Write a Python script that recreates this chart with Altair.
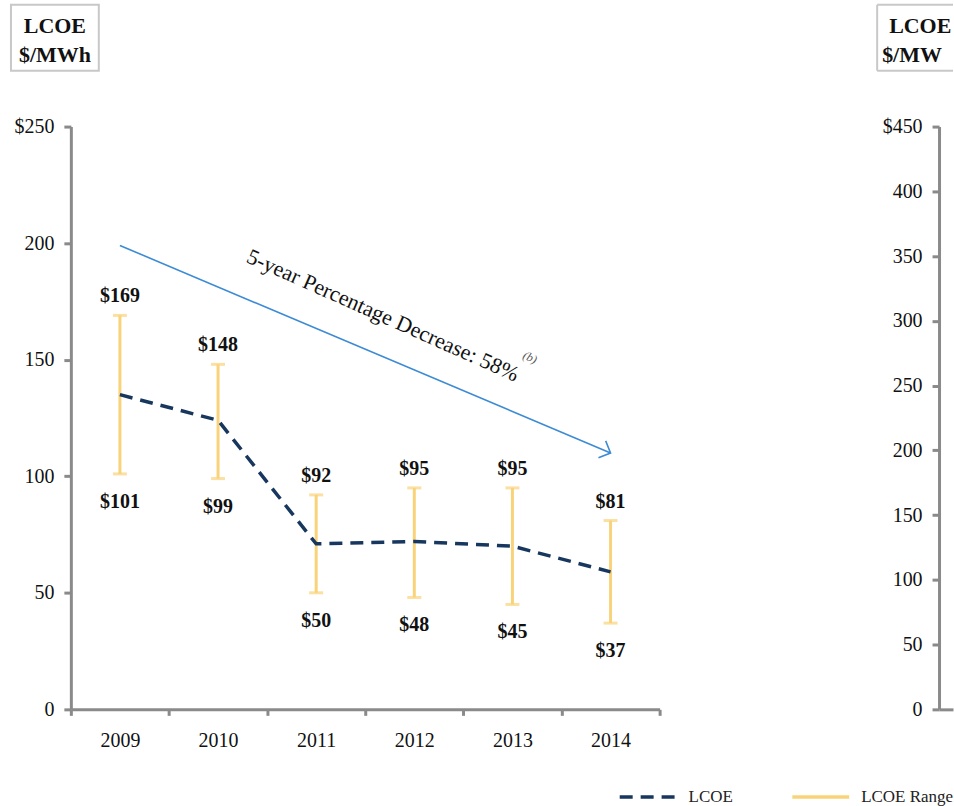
import altair as alt
import pandas as pd

# ---------------- data ----------------
years = ["2009", "2010", "2011", "2012", "2013", "2014"]
lcoe = [135, 124, 71, 72, 70, 59]
range_high = [169, 148, 92, 95, 95, 81]
range_low = [101, 99, 50, 48, 45, 37]
high_labels = ["$169", "$148", "$92", "$95", "$95", "$81"]
low_labels = ["$101", "$99", "$50", "$48", "$45", "$37"]
series_names = ["LCOE", "LCOE Range"]

# trend arrow (x in year-index units, 0..6 across the axis; y in $/MWh)
arrow_x = [0.5, 5.5]
arrow_y = [199, 110]
annot_text = ["5-year Percentage Decrease: 58%"]
annot_x = [3.18]
annot_y = [169]
sup_text = ["(b)"]
sup_x = [4.68]
sup_y = [151]

left_ticks = [0, 50, 100, 150, 200, 250]
right_ticks = [0, 50, 100, 150, 200, 250, 300, 350, 400, 450]

# ---------------- styling ----------------
FONT = "Liberation Serif"
NAVY = "#17375e"
YELLOW = "#f9d37a"
BLUE = "#3d8bd4"
AXIS_GREY = "#8a8a8a"
BOX_GREY = "#c8c8c8"

line_df = pd.DataFrame({"year": years, "value": lcoe, "s": series_names[0]})
range_df = pd.DataFrame({
    "year": years, "high": range_high, "low": range_low,
    "hl": high_labels, "ll": low_labels, "s": series_names[1],
})
arrow_df = pd.DataFrame({"x": arrow_x, "y": arrow_y})
head_df = pd.DataFrame({"x": [arrow_x[-1]], "y": [arrow_y[-1]]})
annot_df = pd.DataFrame({"x": annot_x, "y": annot_y, "t": annot_text})
sup_df = pd.DataFrame({"x": sup_x, "y": sup_y, "t": sup_text})
one = pd.DataFrame({"k": [0]})

x_band = alt.X(
    "year:N",
    sort=years,
    scale=alt.Scale(paddingInner=0, paddingOuter=0),
    axis=alt.Axis(
        title=None, labelAngle=0, labelAlign="center", labelBaseline="top",
        labelFont=FONT, labelFontSize=20,
        labelColor="#111", labelPadding=15, tickBand="extent",
        domainColor=AXIS_GREY, domainWidth=3, tickColor=AXIS_GREY,
        tickWidth=3, tickSize=6, grid=False,
    ),
)
y_left_scale = alt.Scale(domain=[0, 250], nice=False)
y_left_axis = alt.Axis(
    title=None, values=left_ticks,
    labelExpr="datum.value == 250 ? '$250' : datum.label",
    labelFont=FONT, labelFontSize=20, labelColor="#111", labelPadding=10,
    domainColor=AXIS_GREY, domainWidth=3, tickColor=AXIS_GREY,
    tickWidth=3, tickSize=7, grid=False,
)

legend_cfg = alt.Legend(
    title=None, orient="none", direction="horizontal",
    legendX=548, legendY=641, symbolType="stroke",
    symbolSize=3249, symbolStrokeWidth=3.5, labelFont=FONT,
    labelFontSize=17, labelColor="#222", labelOffset=10,
    columnPadding=52,
)
color_enc = alt.Color(
    "s:N",
    scale=alt.Scale(domain=series_names, range=[NAVY, YELLOW]),
    legend=legend_cfg,
)
dash_enc = alt.StrokeDash(
    "s:N",
    scale=alt.Scale(domain=series_names, range=[[13, 8], [1, 0]]),
    legend=legend_cfg,
)

line = alt.Chart(line_df).mark_line(strokeWidth=3.5).encode(
    x=x_band,
    y=alt.Y("value:Q", scale=y_left_scale, axis=y_left_axis),
    color=color_enc,
    strokeDash=dash_enc,
)

rng = alt.Chart(range_df).mark_rule(strokeWidth=3).encode(
    x=alt.X("year:N", sort=years),
    y="low:Q",
    y2="high:Q",
    color=color_enc,
)
cap_hi = alt.Chart(range_df).mark_tick(
    color=YELLOW, thickness=3, size=14
).encode(x=alt.X("year:N", sort=years), y="high:Q")
cap_lo = alt.Chart(range_df).mark_tick(
    color=YELLOW, thickness=3, size=14
).encode(x=alt.X("year:N", sort=years), y="low:Q")

lab_hi = alt.Chart(range_df).mark_text(
    font=FONT, fontSize=20, fontWeight="bold", color="#111",
    baseline="alphabetic", dy=-13,
).encode(x=alt.X("year:N", sort=years), y="high:Q", text="hl:N")
lab_lo = alt.Chart(range_df).mark_text(
    font=FONT, fontSize=20, fontWeight="bold", color="#111",
    baseline="alphabetic", dy=34,
).encode(x=alt.X("year:N", sort=years), y="low:Q", text="ll:N")

main = alt.layer(rng, cap_hi, cap_lo, line, lab_hi, lab_lo)

x_lin = alt.X("x:Q", scale=alt.Scale(domain=[0, 6], nice=False), axis=None)
arrow = alt.Chart(arrow_df).mark_line(color=BLUE, strokeWidth=1.6).encode(
    x=x_lin, y="y:Q"
)
head = alt.Chart(head_df).mark_point(
    shape="M-1,-1L0,0L-1,1", filled=False, stroke=BLUE, strokeWidth=1.6,
    size=340, angle=23, opacity=1,
).encode(x=x_lin, y="y:Q")
annot = alt.Chart(annot_df).mark_text(
    font=FONT, fontSize=22, color="#111", angle=24, baseline="middle",
    align="center",
).encode(x=x_lin, y="y:Q", text="t:N")
sup = alt.Chart(sup_df).mark_text(
    font=FONT, fontSize=12, fontStyle="italic", color="#555", angle=24,
    baseline="middle", align="center",
).encode(x=x_lin, y="y:Q", text="t:N")
annot_layer = alt.layer(arrow, head, annot, sup)

# header box "LCOE $/MWh" (left panel)
box_l = alt.Chart(one).mark_rect(
    fill="white", stroke=BOX_GREY, strokeWidth=2
).encode(x=alt.value(-60), x2=alt.value(28), y=alt.value(-122), y2=alt.value(-56))
box_l_t1 = alt.Chart(one).mark_text(
    text="LCOE", font=FONT, fontSize=22, fontWeight="bold", color="#111",
    align="center", baseline="middle",
).encode(x=alt.value(-16), y=alt.value(-101))
box_l_t2 = alt.Chart(one).mark_text(
    text="$/MWh", font=FONT, fontSize=22, fontWeight="bold", color="#111",
    align="center", baseline="middle",
).encode(x=alt.value(-16), y=alt.value(-72))
box_layer = alt.layer(box_l, box_l_t1, box_l_t2)

left = alt.layer(
    box_layer, main, annot_layer
).resolve_scale(x="independent").properties(width=590, height=584)

# ---------------- right panel (cut off at the page edge) ----------------
right_base = alt.Chart(pd.DataFrame({"c": [""], "v": [0]})).mark_point(
    opacity=0
).encode(
    x=alt.X("c:N", axis=alt.Axis(
        title=None, labels=False, ticks=False, domainColor=AXIS_GREY,
        domainWidth=3, grid=False,
    )),
    y=alt.Y("v:Q", scale=alt.Scale(domain=[0, 450], nice=False), axis=alt.Axis(
        title=None, values=right_ticks,
        labelExpr="datum.value == 450 ? '$450' : datum.label",
        labelFont=FONT, labelFontSize=20, labelColor="#111", labelPadding=10,
        domainColor=AXIS_GREY, domainWidth=3, tickColor=AXIS_GREY,
        tickWidth=3, tickSize=7, grid=False,
    )),
)
rb_top = alt.Chart(one).mark_rule(color=BOX_GREY, strokeWidth=2).encode(
    x=alt.value(-62), x2=alt.value(14), y=alt.value(-122))
rb_bot = alt.Chart(one).mark_rule(color=BOX_GREY, strokeWidth=2).encode(
    x=alt.value(-62), x2=alt.value(14), y=alt.value(-56))
rb_left = alt.Chart(one).mark_rule(color=BOX_GREY, strokeWidth=2).encode(
    x=alt.value(-62), y=alt.value(-122), y2=alt.value(-56))
rb_t1 = alt.Chart(one).mark_text(
    text="LCOE", font=FONT, fontSize=22, fontWeight="bold", color="#111",
    align="left", baseline="middle", limit=64, ellipsis="\u200b",
).encode(x=alt.value(-50), y=alt.value(-101))
rb_t2 = alt.Chart(one).mark_text(
    text="$/MWh", font=FONT, fontSize=22, fontWeight="bold", color="#111",
    align="left", baseline="middle", limit=70, ellipsis="\u200b",
).encode(x=alt.value(-57), y=alt.value(-72))

right = alt.layer(
    rb_top, rb_bot, rb_left, rb_t1, rb_t2, right_base
).properties(width=14, height=584)

chart = alt.hconcat(
    left, right, spacing=280, bounds="flush"
).resolve_scale(y="independent").properties(
    padding={"left": 10, "top": 3, "right": 0, "bottom": 0},
    background="white",
).configure_view(stroke="transparent", strokeWidth=0)

chart.save("out.html", embed_options={"renderer": "svg", "actions": False})
